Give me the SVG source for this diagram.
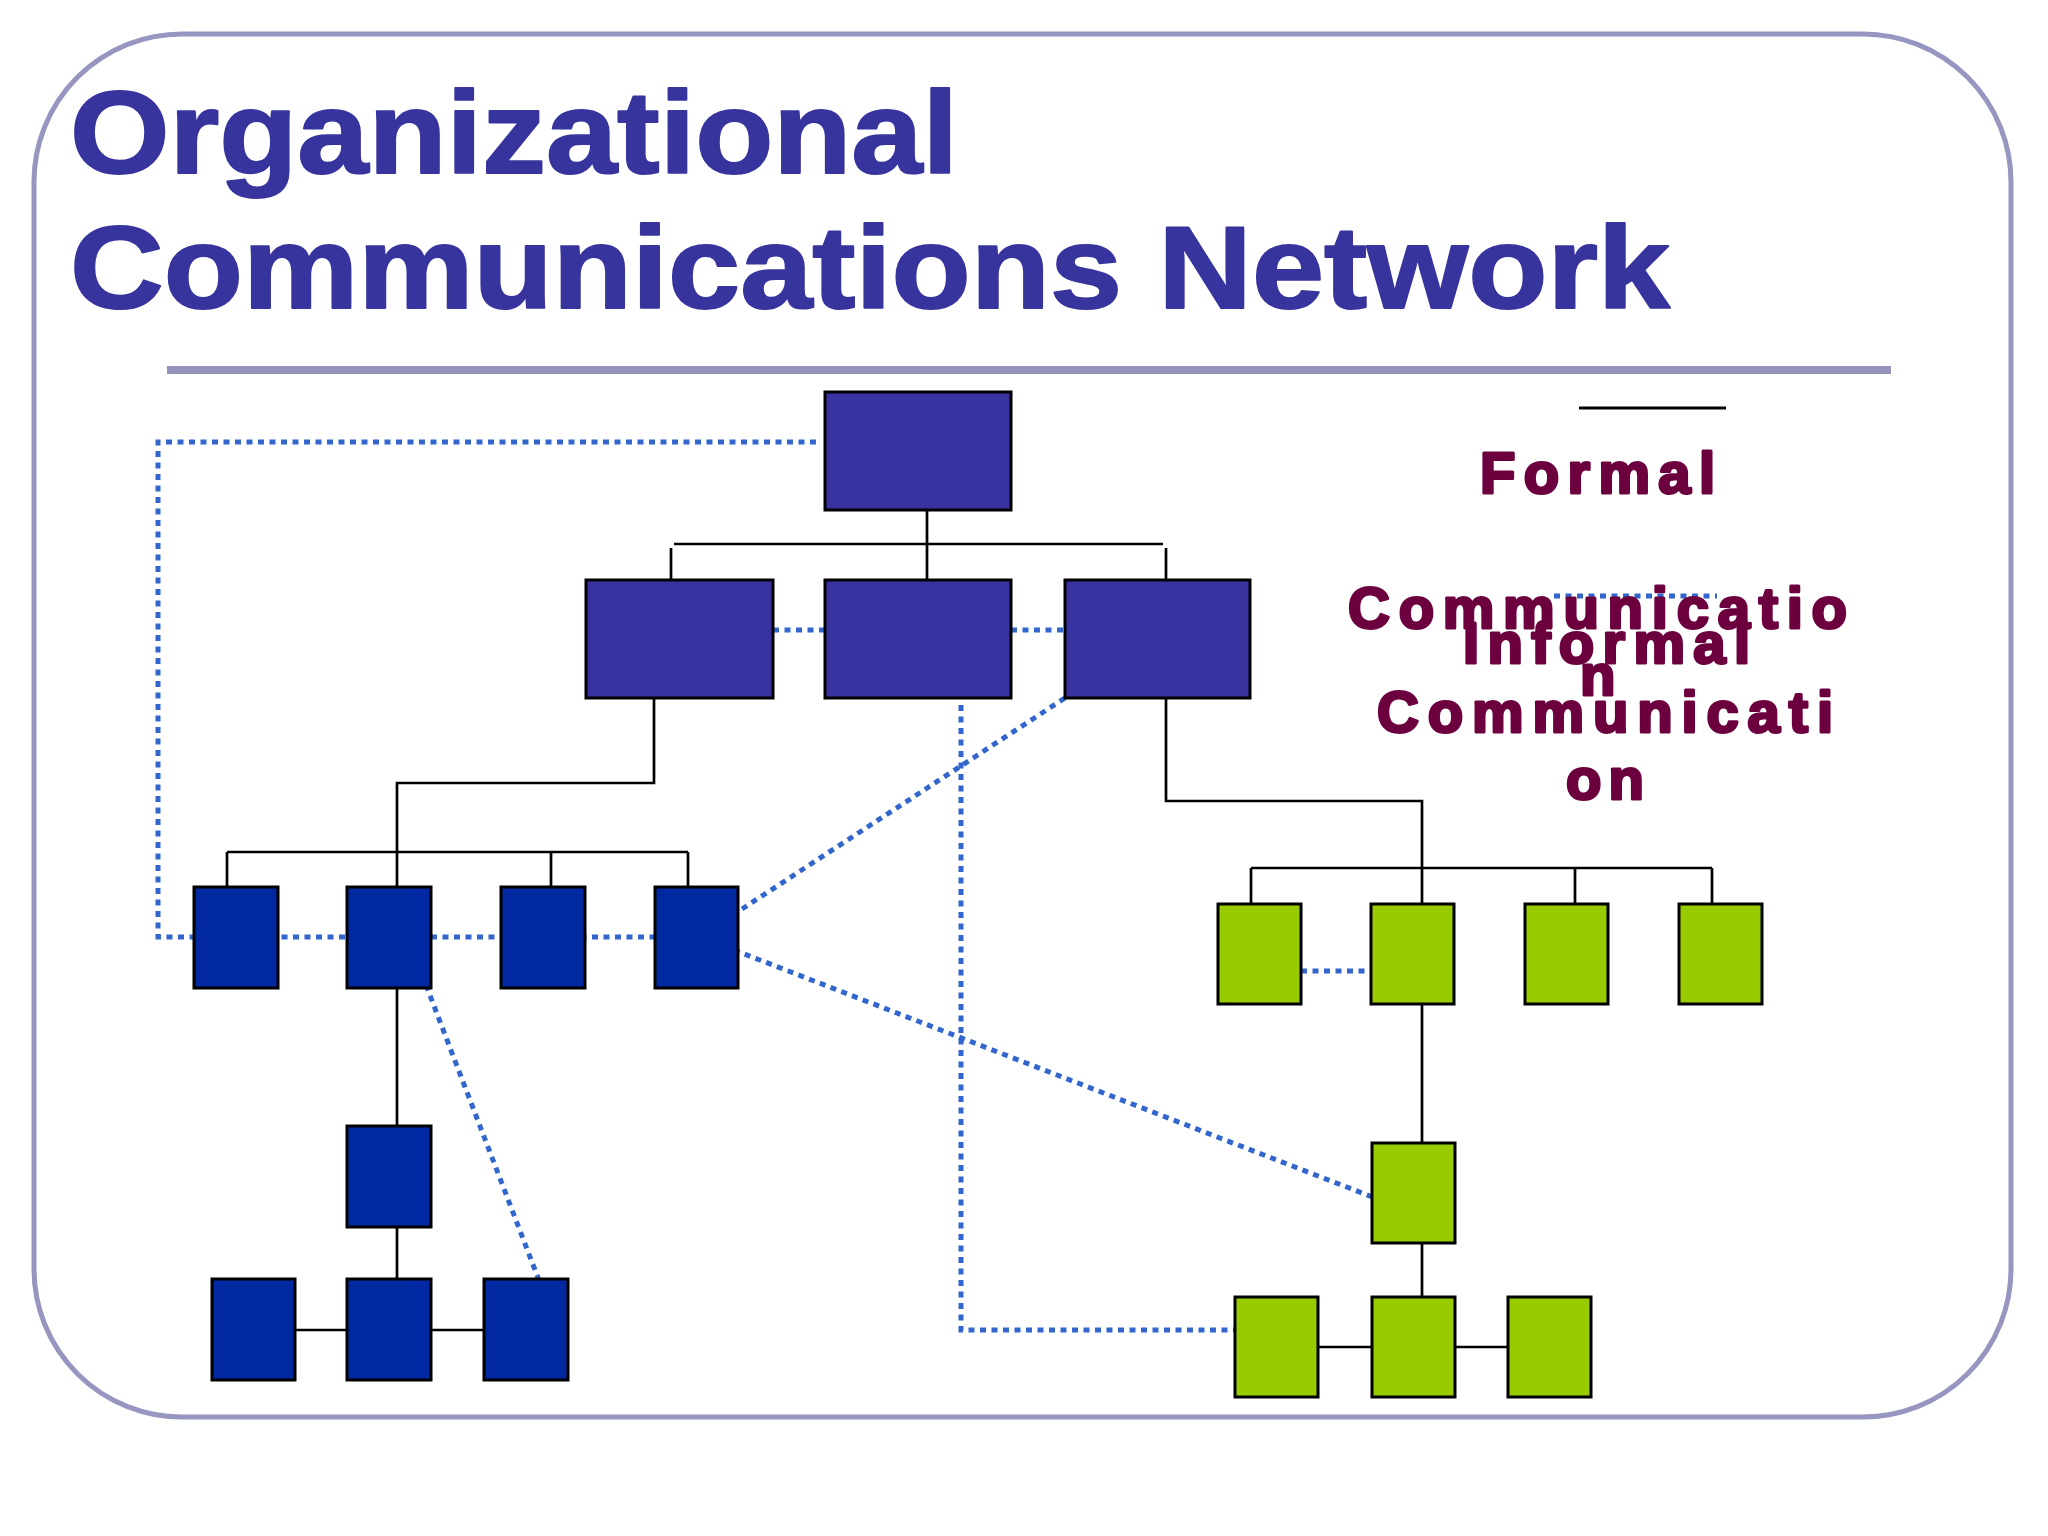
<svg xmlns="http://www.w3.org/2000/svg" width="2048" height="1536" viewBox="0 0 2048 1536">
<style>
.title{font-family:"Liberation Sans",Arial,sans-serif;font-weight:bold;font-size:116px;fill:#37349E;stroke:#37349E;stroke-width:2;stroke-linejoin:round}
.leg{font-family:"Liberation Sans",Arial,sans-serif;font-weight:bold;font-size:58px;fill:#6C003E;stroke:#6C003E;stroke-width:3;stroke-linejoin:round}
.top{fill:#3833A0;stroke:#000;stroke-width:3}
.blue{fill:#0028A0;stroke:#000;stroke-width:3}
.green{fill:#99CC00;stroke:#000;stroke-width:3}
.solid{fill:none;stroke:#000;stroke-width:2.7}
.dot{fill:none;stroke:#3366CC;stroke-width:5;stroke-dasharray:6 5.5}
</style>
<rect x="0" y="0" width="2048" height="1536" fill="#fff"/>
<rect x="34" y="34" width="1977" height="1383" rx="148" ry="148" fill="#fff" stroke="#9696C0" stroke-width="5"/>
<text class="title" x="70" y="173" textLength="888" lengthAdjust="spacingAndGlyphs">Organizational</text>
<text class="title" x="70" y="308" textLength="1600" lengthAdjust="spacingAndGlyphs">Communications Network</text>
<line x1="167" y1="370" x2="1891" y2="370" stroke="#9494BD" stroke-width="8"/>

<g id="connectors">
<path class="dot" d="M816,442 H158 V937 H655"/>
<path class="dot" d="M773,630 H825 M1011,630 H1065"/>
<path class="dot" d="M742,909 L1068,696"/>
<path class="dot" d="M734,950 L1375,1198"/>
<path class="dot" d="M426,985 L540,1283"/>
<path class="dot" d="M961,705 V1330 H1238"/>
<path class="dot" d="M1301,971 H1371"/>
<path class="solid" d="M927,510 V580 M674,544 H1163 M671,548 V580 M1166,548 V580"/>
<path class="solid" d="M654,698 V783 H397 V887 M227,852 H688 M227,852 V887 M551,852 V887 M688,852 V887"/>
<path class="solid" d="M397,988 V1126 M397,1227 V1279 M295,1330 H347 M431,1330 H484"/>
<path class="solid" d="M1166,698 V801 H1422 V904 M1251,868 H1712 M1251,868 V904 M1575,868 V904 M1712,868 V904"/>
<path class="solid" d="M1422,1004 V1143 M1422,1243 V1297 M1318,1347 H1372 M1455,1347 H1508"/>
</g>

<g id="n0"><rect class="top" x="825" y="392" width="186" height="118"/></g>
<g id="n1"><rect class="top" x="586" y="580" width="187" height="118"/></g>
<g id="n2"><rect class="top" x="825" y="580" width="186" height="118"/></g>
<g id="n3"><rect class="top" x="1065" y="580" width="185" height="118"/></g>
<g id="b1"><rect class="blue" x="194" y="887" width="84" height="101"/></g>
<g id="b2"><rect class="blue" x="347" y="887" width="84" height="101"/></g>
<g id="b3"><rect class="blue" x="501" y="887" width="84" height="101"/></g>
<g id="b4"><rect class="blue" x="655" y="887" width="83" height="101"/></g>
<g id="b5"><rect class="blue" x="347" y="1126" width="84" height="101"/></g>
<g id="b6"><rect class="blue" x="212" y="1279" width="83" height="101"/></g>
<g id="b7"><rect class="blue" x="347" y="1279" width="84" height="101"/></g>
<g id="b8"><rect class="blue" x="484" y="1279" width="84" height="101"/></g>
<g id="g1"><rect class="green" x="1218" y="904" width="83" height="100"/></g>
<g id="g2"><rect class="green" x="1371" y="904" width="83" height="100"/></g>
<g id="g3"><rect class="green" x="1525" y="904" width="83" height="100"/></g>
<g id="g4"><rect class="green" x="1679" y="904" width="83" height="100"/></g>
<g id="g5"><rect class="green" x="1372" y="1143" width="83" height="100"/></g>
<g id="g6"><rect class="green" x="1235" y="1297" width="83" height="100"/></g>
<g id="g7"><rect class="green" x="1372" y="1297" width="83" height="100"/></g>
<g id="g8"><rect class="green" x="1508" y="1297" width="83" height="100"/></g>

<g id="legend">
<line x1="1579" y1="408" x2="1726" y2="408" stroke="#000" stroke-width="3"/>
<line class="dot" x1="1554" y1="596" x2="1717" y2="596"/>
<text class="leg" x="1480" y="493" textLength="235" lengthAdjust="spacing">Formal</text>
<text class="leg" x="1348" y="628" textLength="499" lengthAdjust="spacing">Communicatio</text>
<text class="leg" x="1580" y="695">n</text>
<text class="leg" x="1463" y="663" textLength="287" lengthAdjust="spacing">Informal</text>
<text class="leg" x="1377" y="732" textLength="456" lengthAdjust="spacing">Communicati</text>
<text class="leg" x="1566" y="799" textLength="78" lengthAdjust="spacing">on</text>
</g>
</svg>
